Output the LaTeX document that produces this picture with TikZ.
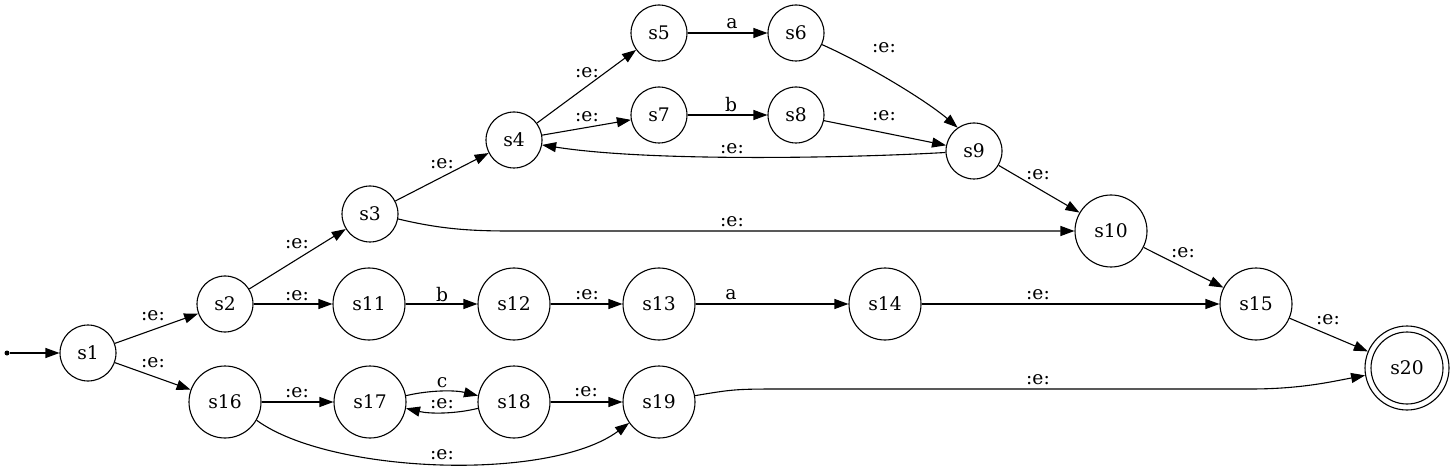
\documentclass[tikz,border=0pt]{standalone}
\usepackage{fontspec}
\setmainfont{DejaVu Serif}
\usetikzlibrary{arrows.meta}
\begin{document}
\begin{tikzpicture}[x=1pt,y=-1pt,
  st/.style={circle,draw,line width=1.1pt,minimum size=56pt,inner sep=0pt,font=\fontsize{18.7}{22}\selectfont},
  big/.style={st,minimum size=72pt},
  lab/.style={inner sep=0pt,font=\fontsize{18.7}{22}\selectfont},
  edge/.style={draw,line width=1.1pt,-{Triangle[length=14pt,width=10pt]}}]
\useasboundingbox (0,0) rectangle (1453,470);
% states
\node[st] (s1) at (88,353) {s1};
\node[st] (s2) at (225,304) {s2};
\node[st] (s3) at (370,214) {s3};
\node[st] (s4) at (514,140) {s4};
\node[st] (s5) at (659,33) {s5};
\node[st] (s6) at (796,33) {s6};
\node[st] (s7) at (659,115) {s7};
\node[st] (s8) at (796,115) {s8};
\node[st] (s9) at (974,151) {s9};
\node[big] (s10) at (1111,231) {s10};
\node[big] (s11) at (369,304) {s11};
\node[big] (s12) at (514,304) {s12};
\node[big] (s13) at (659,304) {s13};
\node[big] (s14) at (885,304) {s14};
\node[big] (s15) at (1256,304) {s15};
\node[big] (s16) at (225,402) {s16};
\node[big] (s17) at (370,402) {s17};
\node[big] (s18) at (514,402) {s18};
\node[big] (s19) at (659,402) {s19};
\node[st,minimum size=84pt] (s20) at (1407,368) {};
\node[big] (s20in) at (s20) {s20};
\node[circle,fill,inner sep=0pt,minimum size=5pt] (start) at (7,353) {};
% edges
\path[edge] (start) -- (s1);
\path[edge] (s1) -- (s2);
\path[edge] (s1) -- (s16);
\path[edge] (s2) -- (s3);
\path[edge] (s2) -- (s11);
\path[edge] (s3) -- (s4);
\path[edge] (s3.-10) .. controls (440,229) and (470,231) .. (510,231) -- (s10);
\path[edge] (s4) -- (s5);
\path[edge] (s4) -- (s7);
\path[edge] (s5) -- (s6);
\path[edge] (s7) -- (s8);
\path[edge] (s6) .. controls (870,66) and (928,102) .. (s9.125);
\path[edge] (s8) -- (s9);
\path[edge] (s9.183) .. controls (850,158) and (650,162) .. (s4.-10);
\path[edge] (s9) -- (s10);
\path[edge] (s10) -- (s15);
\path[edge] (s11) -- (s12);
\path[edge] (s12) -- (s13);
\path[edge] (s13) -- (s14);
\path[edge] (s14) -- (s15);
\path[edge] (s15) -- (s20);
\path[edge] (s16) -- (s17);
\path[edge] (s17.10) .. controls (430,390) and (455,390) .. (s18.170);
\path[edge] (s18.-170) .. controls (455,414) and (430,414) .. (s17.-10);
\path[edge] (s18) -- (s19);
\path[edge] (s16.-30) .. controls (330,474) and (550,482) .. (s19.-145);
\path[edge] (s19.10) .. controls (735,389) .. (790,389) -- (1250,389) .. controls (1300,389) and (1330,382) .. (s20.190);
% labels
\node[lab] (l1) at (153,316) {:e:};
\node[lab] (l2) at (153,363) {:e:};
\node[lab] (l3) at (297,244) {:e:};
\node[lab] (l4) at (297,296) {:e:};
\node[lab] (l5) at (442,164) {:e:};
\node[lab] (l6) at (732,222) {:e:};
\node[lab] (l7) at (587,73) {:e:};
\node[lab] (l8) at (587,117) {:e:};
\node[lab] (l9) at (732,24) {a};
\node[lab] (l10) at (731,105) {b};
\node[lab] (l11) at (884,48) {:e:};
\node[lab] (l12) at (884,116) {:e:};
\node[lab] (l13) at (732,149) {:e:};
\node[lab] (l14) at (1038,175) {:e:};
\node[lab] (l15) at (1183,253) {:e:};
\node[lab] (l16) at (1038,295) {:e:};
\node[lab] (l17) at (1328,320) {:e:};
\node[lab] (l18) at (1038,380) {:e:};
\node[lab] (l19) at (442,295) {b};
\node[lab] (l20) at (587,295) {:e:};
\node[lab] (l21) at (731,295) {a};
\node[lab] (l22) at (297,393) {:e:};
\node[lab] (l23) at (442,383) {c};
\node[lab] (l24) at (442,404) {:e:};
\node[lab] (l25) at (586,392) {:e:};
\node[lab] (l26) at (442,455) {:e:};
\end{tikzpicture}
\end{document}
